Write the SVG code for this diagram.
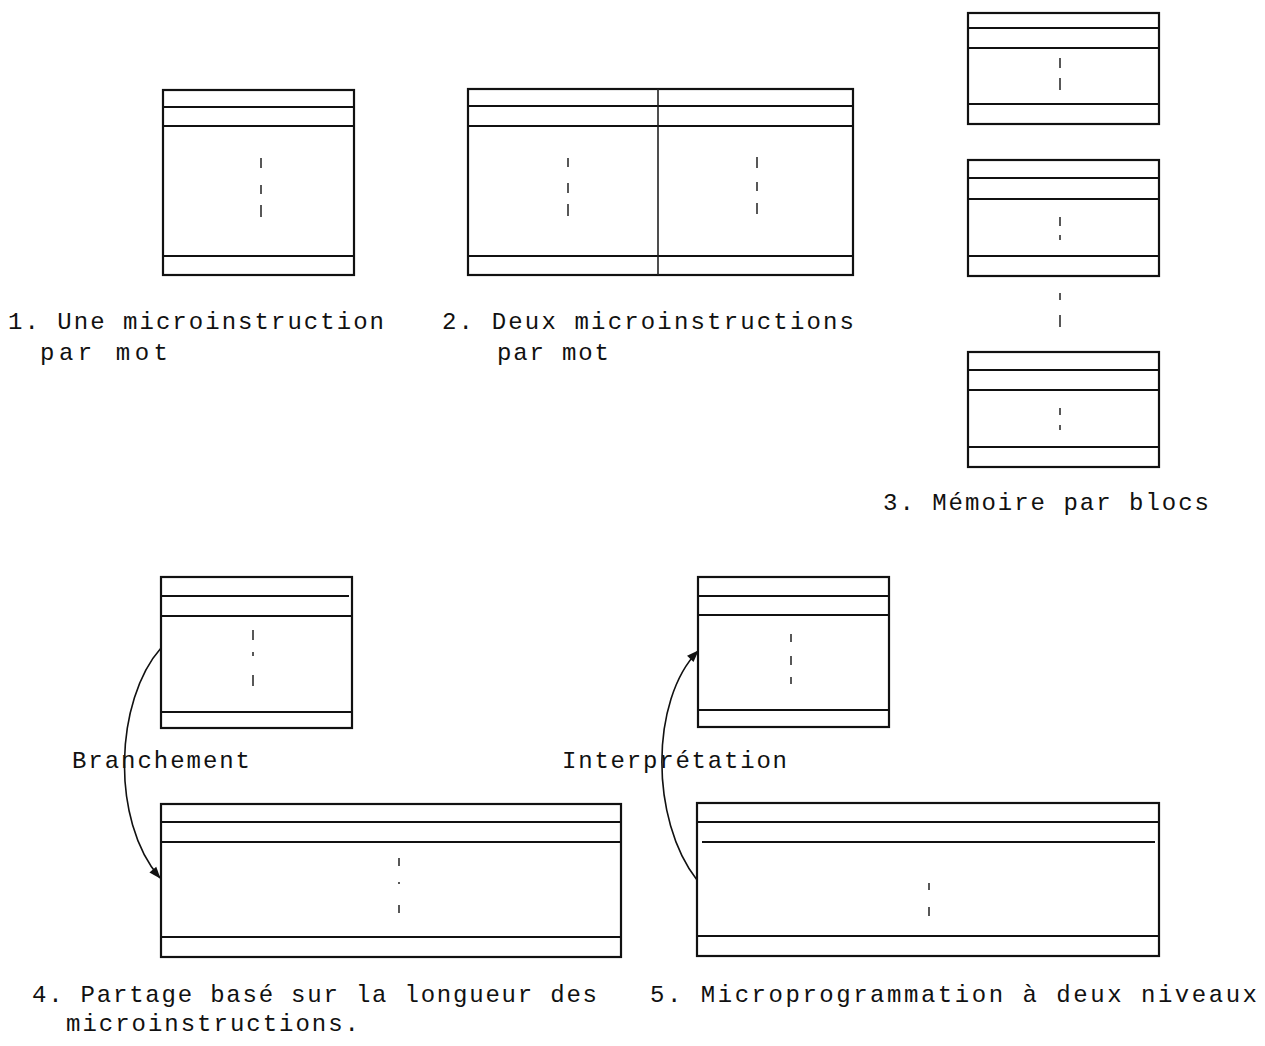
<svg xmlns="http://www.w3.org/2000/svg" width="1265" height="1046" viewBox="0 0 1265 1046">
<style>
.b{fill:none;stroke:#111;stroke-width:2.2}
.l{stroke:#111;stroke-width:2.2;fill:none}
.d{stroke:#222;stroke-width:1.5;fill:none}
.c{stroke:#111;stroke-width:1.6;fill:none}
text{font-family:"Liberation Mono","DejaVu Sans Mono",monospace;font-size:24px;fill:#111}
</style>
<defs>
<marker id="ah" viewBox="0 0 12 10" refX="11" refY="5" markerWidth="13" markerHeight="10" markerUnits="userSpaceOnUse" orient="auto">
<path d="M0,0.5 L12,5 L0,9.5 Z" fill="#111"/>
</marker>
</defs>
<rect width="1265" height="1046" fill="#fff"/>

<g id="box1">
<rect class="b" x="163" y="90" width="191" height="185"/>
<path class="l" d="M163,107H354M163,126H354M163,256H354"/>
<path class="d" d="M261,158V168M261,185V194M261,205V217"/>
</g>

<g id="box2">
<rect class="b" x="468" y="89" width="385" height="186"/>
<path class="l" d="M468,106H853M468,126H853M468,256H853"/>
<path class="d" d="M658,89V275" style="stroke-width:1.6"/>
<path class="d" d="M568,158V167M568,183V193M568,204V216M757,157V168M757,182V191M757,203V214"/>
</g>

<g id="box3a">
<rect class="b" x="968" y="13" width="191" height="111"/>
<path class="l" d="M968,28H1159M968,48H1159M968,104H1159"/>
<path class="d" d="M1060,58V68M1060,78V90"/>
</g>
<g id="box3b">
<rect class="b" x="968" y="160" width="191" height="116"/>
<path class="l" d="M968,178H1159M968,199H1159M968,256H1159"/>
<path class="d" d="M1060,217V226M1060,235V240"/>
</g>
<g id="box3-gap">
<path class="d" d="M1060,293V300M1060,315V327"/>
</g>
<g id="box3c">
<rect class="b" x="968" y="352" width="191" height="115"/>
<path class="l" d="M968,370H1159M968,390H1159M968,447H1159"/>
<path class="d" d="M1060,408V415M1060,425V430"/>
</g>

<g id="box4a">
<rect class="b" x="161" y="577" width="191" height="151"/>
<path class="l" d="M161,596H349M161,616H352M161,712H352"/>
<path class="d" d="M253,630V640M253,652V656M253,675V686"/>
</g>
<g id="box4b">
<rect class="b" x="161" y="804" width="460" height="153"/>
<path class="l" d="M161,822H621M161,842H621M161,937H621"/>
<path class="d" d="M399,858V866M399,882V884M399,905V913"/>
</g>

<g id="box5a">
<rect class="b" x="698" y="577" width="191" height="150"/>
<path class="l" d="M698,596H889M698,615H889M698,710H889"/>
<path class="d" d="M791,634V642M791,656V665M791,677V684"/>
</g>
<g id="box5b">
<rect class="b" x="697" y="803" width="462" height="153"/>
<path class="l" d="M697,822H1159M702,842H1155M697,936H1159"/>
<path class="d" d="M929,883V890M929,907V916"/>
</g>

<g id="connectors">
<path class="c" d="M161,648 C115,700 110,820 160,878" marker-end="url(#ah)"/>
<path class="c" d="M697,880 C650,820 650,700 698,651" marker-end="url(#ah)"/>
</g>

<g id="labels">
<text x="8" y="329" textLength="376" lengthAdjust="spacing" xml:space="preserve">1. Une microinstruction</text>
<text x="40" y="360" textLength="128" lengthAdjust="spacing">par mot</text>
<text x="442" y="329" textLength="412" lengthAdjust="spacing" xml:space="preserve">2. Deux microinstructions</text>
<text x="497" y="360" textLength="112" lengthAdjust="spacing">par mot</text>
<text x="883" y="510" textLength="326" lengthAdjust="spacing" xml:space="preserve">3. Mémoire par blocs</text>
<text x="72" y="768" textLength="178" lengthAdjust="spacing">Branchement</text>
<text x="562" y="768" textLength="225" lengthAdjust="spacing">Interprétation</text>
<text x="32" y="1002" textLength="565" lengthAdjust="spacing" xml:space="preserve">4. Partage basé sur la longueur des</text>
<text x="66" y="1031" textLength="293" lengthAdjust="spacing">microinstructions.</text>
<text x="650" y="1002" textLength="607" lengthAdjust="spacing" xml:space="preserve">5. Microprogrammation à deux niveaux</text>
</g>
</svg>
